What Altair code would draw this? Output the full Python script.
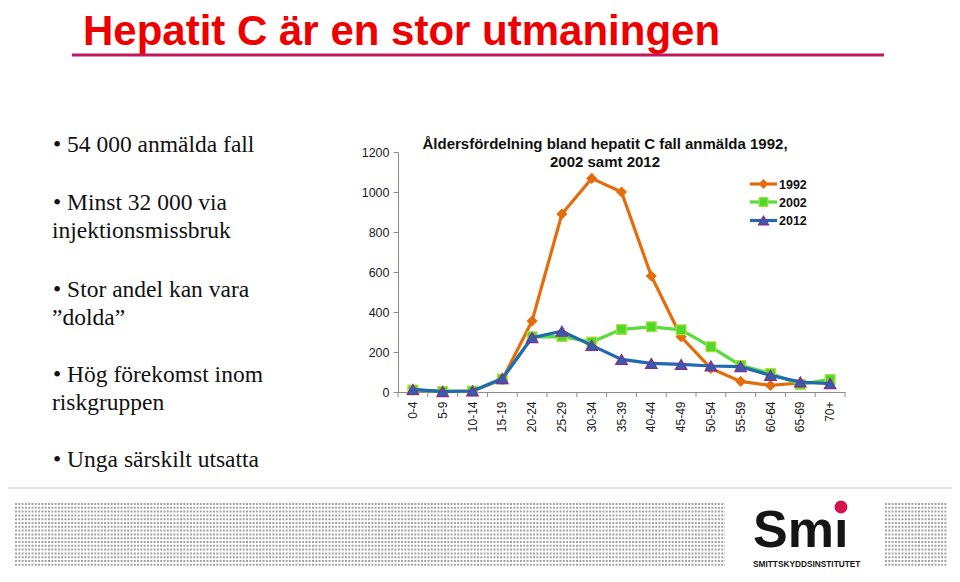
import altair as alt
import pandas as pd

# ---------------- data ----------------
age_groups = ["0-4", "5-9", "10-14", "15-19", "20-24", "25-29", "30-34", "35-39",
              "40-44", "45-49", "50-54", "55-59", "60-64", "65-69", "70+"]
cases_1992 = [10, 3, 5, 62, 355, 890, 1068, 1000, 580, 276, 118, 53, 33, 45, 48]
cases_2002 = [10, 3, 5, 65, 276, 277, 250, 313, 326, 311, 226, 133, 93, 38, 63]
cases_2012 = [13, 2, 5, 67, 272, 304, 233, 163, 143, 138, 130, 127, 83, 50, 42]
series_years = ["1992", "2002", "2012"]
y_ticks = [0, 200, 400, 600, 800, 1000, 1200]

slide_title = "Hepatit C är en stor utmaningen"
chart_title = ["Åldersfördelning bland hepatit C fall anmälda 1992,", "2002 samt 2012"]
bullet_lines = ["• 54 000 anmälda fall", "• Minst 32 000 via", "injektionsmissbruk",
                "• Stor andel kan vara", "”dolda”", "• Hög förekomst inom",
                "riskgruppen", "• Unga särskilt utsatta"]

rows = []
for year, vals in zip(series_years, [cases_1992, cases_2002, cases_2012]):
    for i, (a, v) in enumerate(zip(age_groups, vals)):
        rows.append({"age": a, "idx": i, "cases": v, "year": year})
df = pd.DataFrame(rows)
cats = pd.DataFrame({"age": age_groups})
one = pd.DataFrame({"k": [0]})

# ---------------- styles ----------------
line_col = {"1992": "#E46C0A", "2002": "#5ADB3E", "2012": "#2169B3"}
pt_fill = {"1992": "#E46C0A", "2002": "#4FD82A", "2012": "#2E62B0"}
pt_stroke = {"1992": "#E46C0A", "2002": "#A8E040", "2012": "#8A2A8C"}
pt_shape = {"1992": "diamond", "2002": "square", "2012": "triangle-up"}
pt_size = {"1992": 85, "2002": 95, "2012": 130}
axis_gray = "#8c8c8c"
SANS = "Liberation Sans, Arial, sans-serif"
SERIF = "Liberation Serif, Times New Roman, serif"

x_enc_center = alt.X(
    "age:N", sort=age_groups, bandPosition=0.5,
    scale=alt.Scale(type="band", domain=age_groups, paddingInner=0, paddingOuter=0),
    axis=alt.Axis(title=None, labelAngle=-90, ticks=False, labelPadding=9,
                  domainColor=axis_gray, labelFont=SANS, labelFontSize=12,
                  labelColor="#1a1a1a"),
)
y_enc = alt.Y(
    "cases:Q", scale=alt.Scale(domain=[0, 1200], nice=False),
    axis=alt.Axis(title=None, values=y_ticks, format="d", grid=False, domainColor=axis_gray,
                  tickColor=axis_gray, tickSize=5, labelPadding=4, labelFont=SANS,
                  labelFontSize=12.5, labelColor="#1a1a1a"),
)

layers = []

# bottom decorative panel
layers.append(alt.Chart(one).mark_rect(fill="white", stroke="#dcdcdc", strokeWidth=1.5).encode(
    x=alt.value(-395), x2=alt.value(560), y=alt.value(336), y2=alt.value(428)))
for r in range(17):
    yy = 352 + r * 3.8
    for x0, x1 in [(-383, 327), (487, 549)]:
        layers.append(alt.Chart(one).mark_rule(color="#a4a4a4", strokeWidth=2,
                                               strokeDash=[2, 1.3]).encode(
            x=alt.value(x0), x2=alt.value(x1), y=alt.value(yy)))
# logo
layers.append(alt.Chart(one).mark_text(text="Smı", font=SANS, fontWeight="bold", fontSize=52,
                                       align="left", baseline="alphabetic", color="#151515").encode(
    x=alt.value(355), y=alt.value(395)))
layers.append(alt.Chart(one).mark_point(shape="circle", filled=True, size=165, color="#D4124E",
                                        opacity=1).encode(x=alt.value(443), y=alt.value(355)))
layers.append(alt.Chart(one).mark_text(text="SMITTSKYDDSINSTITUTET", font=SANS, fontWeight="bold",
                                       fontSize=8.3, align="left", baseline="alphabetic",
                                       color="#151515").encode(x=alt.value(355), y=alt.value(415)))

# slide title and rule
layers.append(alt.Chart(one).mark_text(text=slide_title, font=SANS, fontWeight="bold", fontSize=42,
                                       align="left", baseline="alphabetic", color="#EE0000").encode(
    x=alt.value(-315), y=alt.value(-107)))
layers.append(alt.Chart(one).mark_rule(color="#C2185B", strokeWidth=3).encode(
    x=alt.value(-326), x2=alt.value(486), y=alt.value(-97)))

# bullets
bullet_y = [0, 58, 86, 145, 173, 230, 258, 315]
bullet_x = [-345, -345, -346, -345, -346, -345, -346, -345]
for t, bx, by in zip(bullet_lines, bullet_x, bullet_y):
    layers.append(alt.Chart(one).mark_text(text=t, font=SERIF, fontSize=23.5, align="left",
                                           baseline="alphabetic", color="#111").encode(
        x=alt.value(bx), y=alt.value(by)))

# chart title
for t, ty in zip(chart_title, [-3, 14.5]):
    layers.append(alt.Chart(one).mark_text(text=t, font=SANS, fontWeight="bold", fontSize=15,
                                           align="center", baseline="alphabetic",
                                           color="#111").encode(x=alt.value(207), y=alt.value(ty)))

# x tick marks between categories
layers.append(alt.Chart(cats).mark_rule(color=axis_gray).encode(
    x=alt.X("age:N", sort=age_groups, bandPosition=0), y=alt.value(240), y2=alt.value(245)))
layers.append(alt.Chart(one).mark_rule(color=axis_gray).encode(
    x=alt.value(447), y=alt.value(240), y2=alt.value(245)))

# series
for yr in series_years:
    sub = df[df.year == yr]
    layers.append(alt.Chart(sub).mark_line(strokeWidth=3.2, color=line_col[yr]).encode(
        x=x_enc_center, y=y_enc, order=alt.Order("idx:Q")))
    layers.append(alt.Chart(sub).mark_point(shape=pt_shape[yr], filled=True, size=pt_size[yr],
                                            fill=pt_fill[yr], stroke=pt_stroke[yr], strokeWidth=1.3,
                                            opacity=1).encode(x=x_enc_center, y=y_enc))

# manual legend
for yr, ly in zip(series_years, [32, 50, 68.5]):
    layers.append(alt.Chart(one).mark_rule(color=line_col[yr], strokeWidth=3.2).encode(
        x=alt.value(352), x2=alt.value(379), y=alt.value(ly)))
    layers.append(alt.Chart(one).mark_point(shape=pt_shape[yr], filled=True, size=pt_size[yr] * 0.8,
                                            fill=pt_fill[yr], stroke=pt_stroke[yr], strokeWidth=1.2,
                                            opacity=1).encode(x=alt.value(365.5), y=alt.value(ly)))
    layers.append(alt.Chart(one).mark_text(text=yr, font=SANS, fontWeight="bold", fontSize=12.5,
                                           align="left", baseline="middle", color="#111").encode(
        x=alt.value(381), y=alt.value(ly + 0.5)))

chart = alt.layer(*layers).properties(
    width=447, height=240,
    autosize=alt.AutoSizeParams(type="none"),
    padding={"left": 390, "top": 144, "right": 107, "bottom": 182},
    background="white",
).configure_view(strokeWidth=0)

chart.save("out.html", embed_options={"renderer": "svg", "actions": False})
